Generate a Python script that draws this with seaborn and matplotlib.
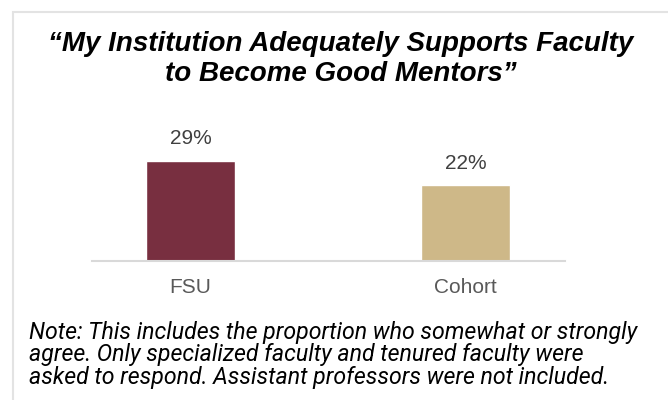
import matplotlib
matplotlib.use("Agg")
import matplotlib.pyplot as plt
import seaborn as sns
import pandas as pd
from matplotlib.patches import Rectangle

categories = ["FSU", "Cohort"]
values = [29, 22]
labels = ["29%", "22%"]
colors = ["#782F40", "#CEB888"]

title = "\u201cMy Institution Adequately Supports Faculty\nto Become Good Mentors\u201d"
note = ("Note: This includes the proportion who somewhat or strongly\n"
        "agree. Only specialized faculty and tenured faculty were\n"
        "asked to respond. Assistant professors were not included.")

sns.set_theme(style="white")
plt.rcParams['font.family'] = ['Liberation Sans', 'DejaVu Sans']

W, H = 668, 400
fig = plt.figure(figsize=(W / 100, H / 100), dpi=100)
fig.patch.set_facecolor("white")

# light frame (top and left visible)
fig.patches.append(Rectangle((13 / W, -0.1), 2.0, (H - 12) / H + 0.1,
                             transform=fig.transFigure, fill=False,
                             edgecolor="#e3e3e3", linewidth=1.5, zorder=0))

ax_left, ax_right = 92, 565
ax_bottom_px, ax_top_px = 261, 123
ax = fig.add_axes([ax_left / W, (H - ax_bottom_px) / H,
                   (ax_right - ax_left) / W, (ax_bottom_px - ax_top_px) / H])

df = pd.DataFrame({"cat": categories, "val": values})
sns.barplot(data=df, x="cat", y="val", hue="cat", palette=colors,
            width=0.324, legend=False, ax=ax, saturation=1)

ax.set_xlim(-0.358, 1.362)
ax.set_ylim(0, (ax_bottom_px - ax_top_px) / 3.45)

for cont, lab in zip(ax.containers, labels):
    ax.bar_label(cont, labels=[lab], padding=9, fontsize=15, color="#404040")

ax.set_xlabel("")
ax.set_ylabel("")
ax.set_yticks([])
ax.tick_params(axis="x", length=0, pad=12, labelsize=15, labelcolor="#595959")
for s in ["top", "left", "right"]:
    ax.spines[s].set_visible(False)
ax.spines["bottom"].set_color("#d9d9d9")
ax.spines["bottom"].set_linewidth(1.5)
ax.set_facecolor("none")

fig.text(341 / W, 1 - 59 / H, title, ha="center", va="center",
         fontsize=20, fontweight="bold", fontstyle="italic",
         family=["Liberation Sans", "DejaVu Sans"],
         color="black", linespacing=1.22)

fig.text(29 / W, 1 - 355 / H, note, ha="left", va="center",
         fontsize=16.7, fontstyle="italic", color="black",
         family=["Roboto", "Liberation Sans", "DejaVu Sans"],
         linespacing=0.95)

fig.savefig("out.png", dpi=100, facecolor="white")
